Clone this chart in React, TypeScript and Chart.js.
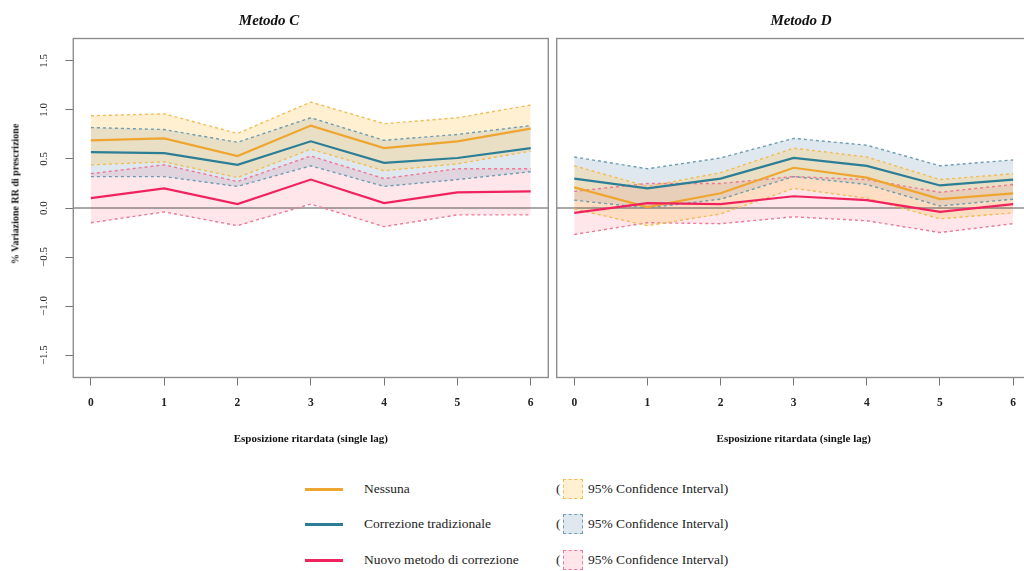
import React, { useEffect, useRef } from "react";
import { Chart, registerables } from "chart.js";

Chart.register(...registerables);

// Lags on the x axis and tick values
const lags = [0, 1, 2, 3, 4, 5, 6];
const xTickValues = [0, 1, 2, 3, 4, 5, 6];
const yTickValues = [-1.5, -1, -0.5, 0, 0.5, 1, 1.5];

// Metodo C — % change in RR with 95% CI
const cNessuna = [0.69, 0.71, 0.53, 0.84, 0.61, 0.68, 0.81];
const cNessunaLo = [0.44, 0.47, 0.31, 0.6, 0.38, 0.45, 0.58];
const cNessunaHi = [0.94, 0.96, 0.76, 1.08, 0.86, 0.92, 1.05];
const cTradiz = [0.57, 0.56, 0.44, 0.68, 0.46, 0.51, 0.61];
const cTradizLo = [0.32, 0.32, 0.22, 0.43, 0.22, 0.29, 0.37];
const cTradizHi = [0.82, 0.8, 0.67, 0.92, 0.69, 0.75, 0.84];
const cNuovo = [0.1, 0.2, 0.04, 0.29, 0.05, 0.16, 0.17];
const cNuovoLo = [-0.15, -0.04, -0.18, 0.04, -0.19, -0.07, -0.07];
const cNuovoHi = [0.35, 0.44, 0.27, 0.53, 0.3, 0.4, 0.4];

// Metodo D
const dNessuna = [0.21, 0.01, 0.15, 0.41, 0.31, 0.09, 0.15];
const dNessunaLo = [-0.01, -0.18, -0.06, 0.2, 0.1, -0.11, -0.05];
const dNessunaHi = [0.43, 0.22, 0.36, 0.61, 0.52, 0.29, 0.35];
const dTradiz = [0.3, 0.2, 0.3, 0.51, 0.43, 0.23, 0.29];
const dTradizLo = [0.08, 0.0, 0.09, 0.32, 0.24, 0.02, 0.09];
const dTradizHi = [0.52, 0.4, 0.51, 0.71, 0.64, 0.43, 0.49];
const dNuovo = [-0.05, 0.05, 0.04, 0.12, 0.08, -0.04, 0.04];
const dNuovoLo = [-0.27, -0.15, -0.16, -0.09, -0.13, -0.25, -0.16];
const dNuovoHi = [0.17, 0.25, 0.25, 0.32, 0.29, 0.16, 0.24];

const seriesLabels = ["Nessuna", "Correzione tradizionale", "Nuovo metodo di correzione"];
const ciLabel = "95% Confidence Interval)";

const palette = [
  { line: "#EFA631", bound: "#F3BC55", fill: "rgba(255, 196, 70, 0.25)" },
  { line: "#2C7E96", bound: "#6E9DB2", fill: "rgba(70, 120, 160, 0.17)" },
  { line: "#F0235E", bound: "#EF7896", fill: "rgba(245, 80, 110, 0.14)" },
];

const FONT = '"Liberation Serif", "Times New Roman", serif';

type Band = { mid: number[]; lo: number[]; hi: number[] };

const pts = (vals: number[]) => lags.map((x, i) => ({ x, y: vals[i] }));

function buildDatasets(bands: Band[]) {
  // center lines first so they are drawn on top of the CI bounds
  const mids = bands
    .map((b, i) => ({
      label: seriesLabels[i],
      data: pts(b.mid),
      borderColor: palette[i].line,
      borderWidth: 2.2,
      pointRadius: 0,
      fill: false,
    }))
    .reverse();
  const bounds: any[] = [];
  bands.forEach((b, i) => {
    const hiIndex = mids.length + bounds.length;
    bounds.push({
      label: seriesLabels[i] + " hi",
      data: pts(b.hi),
      borderColor: palette[i].bound,
      borderWidth: 1.4,
      borderDash: [3, 3],
      pointRadius: 0,
      backgroundColor: palette[i].fill,
      fill: hiIndex + 1,
    });
    bounds.push({
      label: seriesLabels[i] + " lo",
      data: pts(b.lo),
      borderColor: palette[i].bound,
      borderWidth: 1.4,
      borderDash: [3, 3],
      pointRadius: 0,
      fill: false,
    });
  });
  return [...mids, ...bounds];
}

// frame around the plot area and the reference line at 0
const framePlugin = {
  id: "frame",
  beforeDatasetsDraw(chart: any) {
    const { ctx, chartArea, scales } = chart;
    const y0 = scales.y.getPixelForValue(0);
    ctx.save();
    ctx.strokeStyle = "#555";
    ctx.lineWidth = 1;
    ctx.beginPath();
    ctx.moveTo(chartArea.left, y0);
    ctx.lineTo(chartArea.right, y0);
    ctx.stroke();
    ctx.restore();
  },
  afterDraw(chart: any) {
    const { ctx, chartArea } = chart;
    ctx.save();
    ctx.strokeStyle = "#8e8e8e";
    ctx.lineWidth = 1.4;
    ctx.strokeRect(
      chartArea.left,
      chartArea.top,
      chartArea.right - chartArea.left,
      chartArea.bottom - chartArea.top
    );
    ctx.restore();
  },
};

function makeConfig(bands: Band[], showY: boolean, padding: any) {
  return {
    type: "line",
    data: { datasets: buildDatasets(bands) },
    plugins: [framePlugin],
    options: {
      animation: false,
      responsive: false,
      events: [],
      layout: { padding },
      elements: { line: { tension: 0 } },
      plugins: {
        legend: { display: false },
        tooltip: { enabled: false },
        filler: { drawTime: "beforeDatasetsDraw" },
      },
      scales: {
        x: {
          type: "linear",
          min: -0.24,
          max: 6.24,
          afterBuildTicks: (s: any) => {
            s.ticks = xTickValues.map((v) => ({ value: v }));
          },
          afterFit: (s: any) => {
            s.height = 68.5;
          },
          grid: {
            drawOnChartArea: false,
            drawTicks: true,
            tickLength: 8,
            color: "#777",
          },
          border: { display: false },
          ticks: {
            padding: 11,
            color: "#222",
            font: { family: FONT, size: 11.5, weight: "bold" },
            callback: (v: any) => String(v),
          },
          title: {
            display: true,
            text: "Esposizione ritardata (single lag)",
            color: "#111",
            font: { family: FONT, size: 11, weight: "bold" },
            padding: { top: 0, bottom: 0 },
          },
        },
        y: {
          type: "linear",
          display: showY,
          min: -1.728,
          max: 1.728,
          afterBuildTicks: (s: any) => {
            s.ticks = yTickValues.map((v) => ({ value: v }));
          },
          afterFit: (s: any) => {
            s.width = showY ? 73.3 : 0;
          },
          grid: {
            drawOnChartArea: false,
            drawTicks: true,
            tickLength: 8,
            color: "#777",
          },
          border: { display: false },
          ticks: {
            minRotation: 90,
            maxRotation: 90,
            crossAlign: "center",
            padding: 11,
            color: "#222",
            font: { family: FONT, size: 11 },
            callback: (v: any) =>
              v < 0 ? "\u2212" + Math.abs(v).toFixed(1) : Number(v).toFixed(1),
          },
        },
      },
    },
  };
}

function Panel(props: {
  bands: Band[];
  showY: boolean;
  left: number;
  width: number;
  padding: any;
}) {
  const ref = useRef<HTMLCanvasElement>(null);
  useEffect(() => {
    if (!ref.current) return;
    const chart = new Chart(
      ref.current,
      makeConfig(props.bands, props.showY, props.padding) as any
    );
    return () => chart.destroy();
  }, []);
  return (
    <canvas
      ref={ref}
      width={props.width}
      height={460}
      style={{ position: "absolute", left: props.left, top: 0, width: props.width, height: 460 }}
    />
  );
}

const bandsC: Band[] = [
  { mid: cNessuna, lo: cNessunaLo, hi: cNessunaHi },
  { mid: cTradiz, lo: cTradizLo, hi: cTradizHi },
  { mid: cNuovo, lo: cNuovoLo, hi: cNuovoHi },
];
const bandsD: Band[] = [
  { mid: dNessuna, lo: dNessunaLo, hi: dNessunaHi },
  { mid: dTradiz, lo: dTradizLo, hi: dTradizHi },
  { mid: dNuovo, lo: dNuovoLo, hi: dNuovoHi },
];

const legendRowsY = [489, 524, 560];

export default function App() {
  const titleStyle: React.CSSProperties = {
    position: "absolute",
    top: 11,
    fontFamily: FONT,
    fontWeight: "bold",
    fontStyle: "italic",
    fontSize: 15,
    lineHeight: "18px",
    color: "#111",
    transform: "translateX(-50%)",
    whiteSpace: "nowrap",
  };
  const legendText: React.CSSProperties = {
    position: "absolute",
    fontSize: 13.5,
    lineHeight: "18px",
    color: "#222",
    whiteSpace: "nowrap",
  };
  return (
    <div
      style={{
        position: "fixed",
        left: 0,
        top: 0,
        width: 1024,
        height: 571,
        overflow: "hidden",
        background: "#fff",
        fontFamily: FONT,
      }}
    >
      <Panel bands={bandsC} showY={true} left={0} width={556} padding={{ left: 0, right: 7.7, top: 38.5, bottom: 14 }} />
      <Panel bands={bandsD} showY={false} left={549} width={490} padding={{ left: 7.7, right: 8.3, top: 38.5, bottom: 14 }} />

      <div style={{ ...titleStyle, left: 269 }}>Metodo C</div>
      <div style={{ ...titleStyle, left: 801 }}>Metodo D</div>

      <div
        style={{
          position: "absolute",
          left: 15,
          top: 194,
          transform: "translate(-50%, -50%) rotate(-90deg)",
          fontFamily: FONT,
          fontWeight: "bold",
          fontSize: 10,
          color: "#111",
          whiteSpace: "nowrap",
        }}
      >
        % Variazione RR di prescrizione
      </div>

      {seriesLabels.map((label, i) => (
        <React.Fragment key={label}>
          <div
            style={{
              position: "absolute",
              left: 305,
              top: legendRowsY[i] - 1.5,
              width: 38,
              height: 3,
              background: palette[i].line,
            }}
          />
          <div style={{ ...legendText, left: 364, top: legendRowsY[i] - 9 }}>{label}</div>
          <div style={{ ...legendText, left: 556, top: legendRowsY[i] - 9 }}>(</div>
          <div
            style={{
              position: "absolute",
              left: 563,
              top: legendRowsY[i] - 10,
              width: 18,
              height: 18,
              border: `1px dashed ${palette[i].bound}`,
              background: palette[i].fill,
            }}
          />
          <div style={{ ...legendText, left: 588, top: legendRowsY[i] - 9 }}>{ciLabel}</div>
        </React.Fragment>
      ))}
    </div>
  );
}
